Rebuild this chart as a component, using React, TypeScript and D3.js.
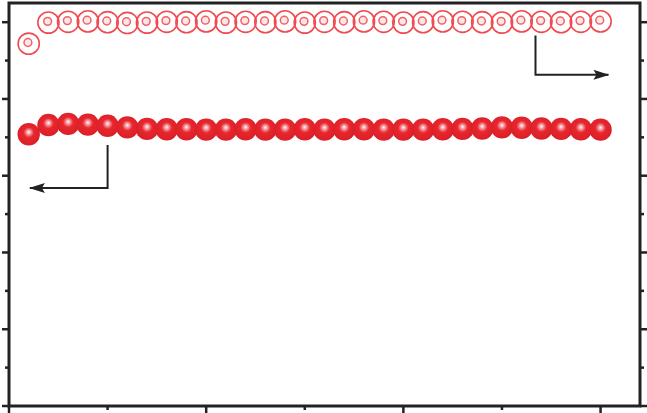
import React from 'react';
import * as d3 from 'd3';

// cycle numbers
const cycles = [5, 10, 15, 20, 25, 30, 35, 40, 45, 50, 55, 60, 65, 70, 75, 80, 85, 90, 95, 100, 105, 110, 115, 120, 125, 130, 135, 140, 145, 150];
// discharge capacity (left axis)
const capacity = [708, 732, 735, 733, 730, 726, 722, 721, 721, 720, 720, 721, 720, 720, 721, 720, 721, 721, 720, 720, 720, 721, 722, 723, 726, 725, 723, 722, 721, 720];
// coulombic efficiency (right axis, %)
const efficiency = [94.4, 99.9, 100.1, 100.2, 100.0, 99.8, 99.9, 100.1, 100.0, 100.2, 99.9, 100.1, 100.0, 100.2, 99.9, 100.1, 100.0, 100.2, 100.1, 99.9, 100.0, 100.2, 100.1, 100.0, 99.9, 100.2, 100.1, 100.0, 100.1, 100.2];

const xMajor = [0, 50, 100, 150];
const xMinor = [25, 75, 125];
const leftMajor = [0, 200, 400, 600, 800, 1000];
const leftMinor = [100, 300, 500, 700, 900];

// arrow annotations: [cycle, value] corners
const ceArrow = [[133.5, 96.5], [133.5, 86.3], [152, 86.3]];
const capArrow = [[25, 680], [25, 568], [5.3, 568]];

const W = 647;
const H = 413;
const left = 9, right = 640, top = 3, bottom = 406;

export default function App() {
  const x = d3.scaleLinear().domain([0, 160]).range([left, right]);
  const yL = d3.scaleLinear().domain([0, 1050]).range([bottom, top]);
  const yR = d3.scaleLinear().domain([0, 105]).range([bottom, top]);
  const line = d3.line();
  const axisColor = '#222';

  const ceLine = ceArrow.map(([c, v]) => [x(c), yR(v)] as [number, number]);
  const capLine = capArrow.map(([c, v]) => [x(c), yL(v)] as [number, number]);

  return (
    <svg width={W} height={H} style={{ position: 'absolute', left: 0, top: 0, background: '#fff' }}>
      <defs>
        <radialGradient id="ball" cx="50%" cy="45%" r="55%" fx="50%" fy="40%">
          <stop offset="0%" stopColor="#ffffff" />
          <stop offset="16%" stopColor="#f5a3a7" />
          <stop offset="42%" stopColor="#e8262e" />
          <stop offset="100%" stopColor="#da1f27" />
        </radialGradient>
        <marker id="head" viewBox="0 0 16 10" refX="15" refY="5" markerWidth="16" markerHeight="10" markerUnits="userSpaceOnUse" orient="auto">
          <path d="M0,0 L16,5 L0,10 L3,5 Z" fill={axisColor} />
        </marker>
      </defs>

      {/* efficiency: hollow markers */}
      {cycles.map((c, i) => (
        <g key={'o' + i} transform={`translate(${x(c)},${yR(efficiency[i])})`}>
          <circle r={10.6} fill="none" stroke="#f04a50" strokeWidth={1.6} />
          <circle cx={-0.8} cy={-1.2} r={3.9} fill="#fde6e6" stroke="#f06066" strokeWidth={1.5} />
        </g>
      ))}

      {/* capacity: filled shaded markers */}
      {cycles.map((c, i) => (
        <circle key={'f' + i} cx={x(c)} cy={yL(capacity[i])} r={11.2} fill="url(#ball)" />
      ))}

      {/* arrows */}
      <path d={line(ceLine) || ''} fill="none" stroke={axisColor} strokeWidth={2} markerEnd="url(#head)" />
      <path d={line(capLine) || ''} fill="none" stroke={axisColor} strokeWidth={2} markerEnd="url(#head)" />

      {/* frame */}
      <rect x={left} y={top} width={right - left} height={bottom - top} fill="none" stroke={axisColor} strokeWidth={3} />

      {/* x ticks */}
      {xMajor.map(v => (
        <line key={'xm' + v} x1={x(v)} x2={x(v)} y1={bottom} y2={bottom + 7} stroke={axisColor} strokeWidth={2.5} />
      ))}
      {xMinor.map(v => (
        <line key={'xn' + v} x1={x(v)} x2={x(v)} y1={bottom} y2={bottom + 4} stroke={axisColor} strokeWidth={2.5} />
      ))}

      {/* left ticks */}
      {leftMajor.map(v => (
        <line key={'lm' + v} x1={left} x2={left - 7} y1={yL(v)} y2={yL(v)} stroke={axisColor} strokeWidth={2.5} />
      ))}
      {leftMinor.map(v => (
        <line key={'ln' + v} x1={left} x2={left - 4} y1={yL(v)} y2={yL(v)} stroke={axisColor} strokeWidth={2.5} />
      ))}

      {/* right ticks */}
      {leftMajor.map(v => (
        <line key={'rm' + v} x1={right} x2={right + 7} y1={yR(v / 10)} y2={yR(v / 10)} stroke={axisColor} strokeWidth={2.5} />
      ))}
      {leftMinor.map(v => (
        <line key={'rn' + v} x1={right} x2={right + 4} y1={yR(v / 10)} y2={yR(v / 10)} stroke={axisColor} strokeWidth={2.5} />
      ))}
    </svg>
  );
}
